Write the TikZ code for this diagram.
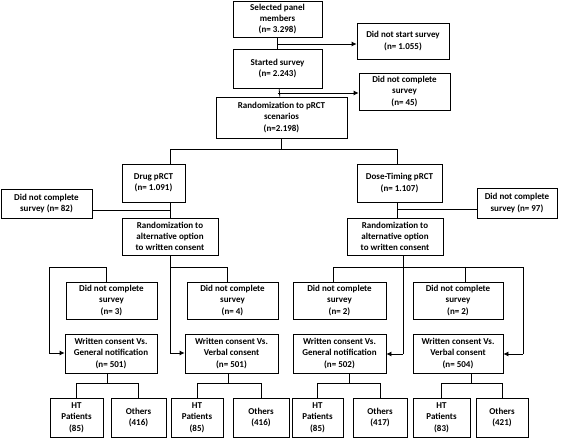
\documentclass[tikz,border=0pt]{standalone}
\usepackage{fontspec}
\setmainfont{Carlito}
\usetikzlibrary{arrows.meta}
\tikzset{
  box/.style={draw, line width=0.8pt, align=center, inner sep=0pt,
    font=\bfseries\fontsize{9}{11.3}\selectfont},
  conn/.style={line width=0.8pt},
  arr/.style={line width=0.8pt, -{Latex[length=5pt,width=5pt]}}
}
\newcommand\mybox[6]{%
  \node[box, minimum width={(#3-#2)*1pt}, minimum height={(#5-#4)*1pt}]
    (#1) at ({(#2+#3)/2},{(#4+#5)/2}) {#6};}
\begin{document}
\begin{tikzpicture}[x=1pt,y=-1pt]
\useasboundingbox (0,0) rectangle (568,438);
% boxes
\mybox{sel}{233}{322}{1}{37}{Selected panel\\members\\(n= 3.298)}
\mybox{dns}{357}{449}{23}{59}{Did not start survey\\(n= 1.055)}
\mybox{start}{233}{322}{49}{88}{Started survey\\(n= 2.243)}
\mybox{dnc45}{359}{450}{73}{110}{Did not complete\\survey\\(n= 45)}
\mybox{rand}{216}{347}{97}{138}{Randomization to pRCT\\scenarios\\(n=2.198)}
\mybox{drug}{122}{185}{164}{202}{Drug pRCT\\(n= 1.091)}
\mybox{dnc82}{1}{92}{189}{218}{Did not complete\\survey (n= 82)}
\mybox{randL}{122}{218}{218}{255}{Randomization to\\alternative option\\to written consent}
\mybox{dose}{357}{442}{164}{202}{Dose-Timing pRCT\\(n= 1.107)}
\mybox{dnc97}{477}{557}{188}{218}{Did not complete\\survey (n= 97)}
\mybox{randR}{347}{443}{218}{255}{Randomization to\\alternative option\\to written consent}
\mybox{dncA}{66}{157}{282}{319}{Did not complete\\survey\\(n= 3)}
\mybox{dncB}{187}{278}{282}{319}{Did not complete\\survey\\(n= 4)}
\mybox{dncC}{293}{386}{282}{319}{Did not complete\\survey\\(n= 2)}
\mybox{dncD}{413}{503}{282}{319}{Did not complete\\survey\\(n= 2)}
\mybox{wgL}{65}{157}{334}{373}{Written consent Vs.\\General notification\\(n= 501)}
\mybox{wvL}{185}{278}{334}{373}{Written consent Vs.\\Verbal consent\\(n= 501)}
\mybox{wgR}{293}{386}{334}{373}{Written consent Vs.\\General notification\\(n= 502)}
\mybox{wvR}{413}{503}{334}{373}{Written consent Vs.\\Verbal consent\\(n= 504)}
\mybox{htA}{50}{103}{398}{437}{HT\\Patients\\(85)}
\mybox{otA}{111}{166}{398}{437}{Others\\(416)}
\mybox{htB}{171}{223}{398}{437}{HT\\Patients\\(85)}
\mybox{otB}{233}{289}{398}{437}{Others\\(416)}
\mybox{htC}{292}{343}{398}{437}{HT\\Patients\\(85)}
\mybox{otC}{353}{407}{398}{437}{Others\\(417)}
\mybox{htD}{413}{470}{398}{437}{HT\\Patients\\(83)}
\mybox{otD}{476}{528}{398}{437}{Others\\(421)}
% junction coordinates
\coordinate (j1) at (277.5,44);
\coordinate (j2) at (277.5,93);
\coordinate (hL) at (170,149);
\coordinate (hR) at (397,149);
\coordinate (j82) at (170,210);
\coordinate (j97) at (397,209);
\coordinate (bL) at (170,267);
\coordinate (bLa) at (49,267);
\coordinate (bLb) at (106,267);
\coordinate (bLd) at (227,267);
\coordinate (aL1) at (49,353);
\coordinate (aL2) at (170,353);
\coordinate (bR) at (403,267);
\coordinate (bRa) at (333,267);
\coordinate (bRc) at (465,267);
\coordinate (bRd) at (523,267);
\coordinate (aR1) at (403,354);
\coordinate (aR2) at (523,354);
\coordinate (tA) at (107,383);
\coordinate (tB) at (228,383);
\coordinate (tC) at (349,383);
\coordinate (tD) at (471,383);
% top chain
\draw[conn] (sel) -- (start);
\draw[arr] (j1) -- (j1 -| dns.west);
\draw[conn] (start) -- (rand);
\draw[arr] (j2) -- (j2 -| dnc45.west);
\draw[conn] (rand.south) -- (rand.south |- hL);
\draw[conn] (hL |- drug.north) -- (hL) -- (hR) -- (hR |- dose.north);
% drug branch
\draw[conn] (hL |- drug.south) -- (hL |- randL.north);
\draw[conn] (dnc82.east |- j82) -- (j82);
% dose branch
\draw[conn] (hR |- dose.south) -- (hR |- randR.north);
\draw[conn] (j97) -- (j97 -| dnc97.west);
% left randomization split
\draw[conn] (bL |- randL.south) -- (aL2);
\draw[conn] (bLb |- dncA.north) -- (bLb) -- (bLa) -- (aL1);
\draw[conn] (bL) -- (bLd) -- (bLd |- dncB.north);
\draw[arr] (aL1) -- (aL1 -| wgL.west);
\draw[arr] (aL2) -- (aL2 -| wvL.west);
% right randomization split
\draw[conn] (bR |- randR.south) -- (aR1);
\draw[conn] (bRa |- dncC.north) -- (bRa) -- (bRd) -- (aR2);
\draw[conn] (bRc) -- (bRc |- dncD.north);
\draw[arr] (aR1) -- (aR1 -| wgR.east);
\draw[arr] (aR2) -- (aR2 -| wvR.east);
% bottom splits
\draw[conn] (tA |- wgL.south) -- (tA);
\draw[conn] (htA.north) -- (htA.north |- tA) -- (otA.north |- tA) -- (otA.north);
\draw[conn] (tB |- wvL.south) -- (tB);
\draw[conn] (htB.north) -- (htB.north |- tB) -- (otB.north |- tB) -- (otB.north);
\draw[conn] (tC |- wgR.south) -- (tC);
\draw[conn] (htC.north) -- (htC.north |- tC) -- (otC.north |- tC) -- (otC.north);
\draw[conn] (tD |- wvR.south) -- (tD);
\draw[conn] (htD.north) -- (htD.north |- tD) -- (otD.north |- tD) -- (otD.north);
\end{tikzpicture}
\end{document}
